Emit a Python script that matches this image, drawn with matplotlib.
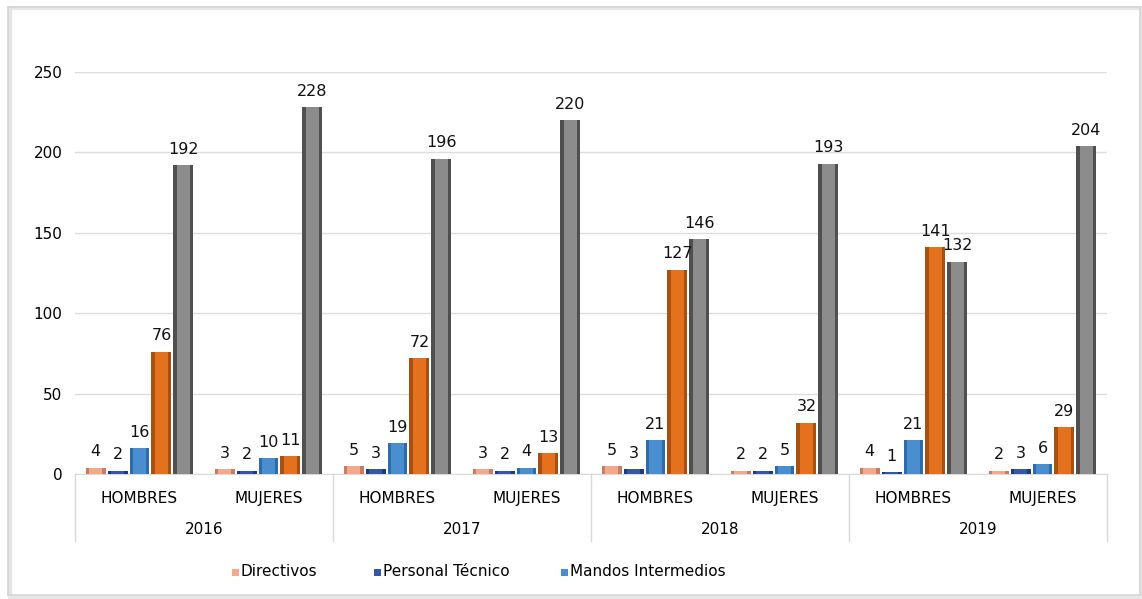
import matplotlib.pyplot as plt
from matplotlib.patches import Rectangle
import numpy as np

# datos
years = ['2016', '2017', '2018', '2019']
sexes = ['HOMBRES', 'MUJERES']
directivos = [4, 3, 5, 3, 5, 2, 4, 2]
tecnico = [2, 2, 3, 2, 3, 2, 1, 3]
mandos = [16, 10, 19, 4, 21, 5, 21, 6]
serie4 = [76, 11, 72, 13, 127, 32, 141, 29]
serie5 = [192, 228, 196, 220, 146, 193, 132, 204]

series = [directivos, tecnico, mandos, serie4, serie5]
colors = ['#F2A98C', '#3458A4', '#4A8ED0', '#E3711E', '#8C8C8C']
dark = ['#C97C62', '#1F3A78', '#2D6BAA', '#A8500F', '#4F4F4F']
legend_names = ['Directivos', 'Personal Técnico', 'Mandos Intermedios']

W, H = 1142, 599
fig = plt.figure(figsize=(W / 100, H / 100), dpi=100)
plt.rcParams['font.family'] = ['DejaVu Sans']

# marco con sombra
fig.patches.append(Rectangle((10 / W, 1 / H), 1132 / W, 590 / H, transform=fig.transFigure,
                             facecolor='none', edgecolor='#E6E6E6', lw=3))
fig.patches.append(Rectangle((8 / W, 4 / H), 1132 / W, 588 / H, transform=fig.transFigure,
                             facecolor='none', edgecolor='#D4D4D4', lw=1.2))

ax = fig.add_axes([75 / W, 125 / H, 1032 / W, 402 / H])
x = np.arange(len(directivos))
step = 0.17
bw = 0.155
for i, vals in enumerate(series):
    xs = x + (i - 2) * step
    ax.bar(xs, vals, bw, color=dark[i], zorder=3)
    ax.bar(xs, vals, bw * 0.62, color=colors[i], zorder=4)
    for xv, v in zip(xs, vals):
        ax.annotate(str(v), (xv, v), xytext=(0, 6), textcoords='offset points',
                    ha='center', va='bottom', fontsize=11.5, color='#111111', zorder=5)

ax.set_xlim(-0.5, 7.5)
ax.set_ylim(0, 250)
ax.set_yticks([0, 50, 100, 150, 200, 250])
ax.tick_params(axis='y', length=0, pad=9, labelsize=11)
ax.set_xticks([])
ax.grid(axis='y', color='#DDDDDD', lw=1, zorder=0)
for s in ['top', 'right', 'left']:
    ax.spines[s].set_visible(False)
ax.spines['bottom'].set_color('#D9D9D9')

# etiquetas de categoria en dos niveles
tr = ax.get_xaxis_transform()
for k in range(len(directivos)):
    ax.text(k, -0.06, sexes[k % 2], transform=tr, ha='center', va='center', fontsize=11)
for j, y in enumerate(years):
    ax.text(2 * j + 0.5, -0.139, y, transform=tr, ha='center', va='center', fontsize=11)
for b in np.arange(-0.5, 8.0, 2):
    ax.plot([b, b], [0, -0.167], transform=tr, color='#D9D9D9', lw=1, clip_on=False)

# leyenda
leg_x = [236, 378, 565]
for name, c, lx in zip(legend_names, colors[:3], leg_x):
    fig.patches.append(Rectangle(((lx - 4) / W, (599 - 576) / H), 7 / W, 7 / H,
                                 transform=fig.transFigure, facecolor=c, edgecolor='none'))
    fig.text((lx + 5) / W, (599 - 572) / H, name, ha='left', va='center', fontsize=11)

fig.savefig('out.png', dpi=100)
